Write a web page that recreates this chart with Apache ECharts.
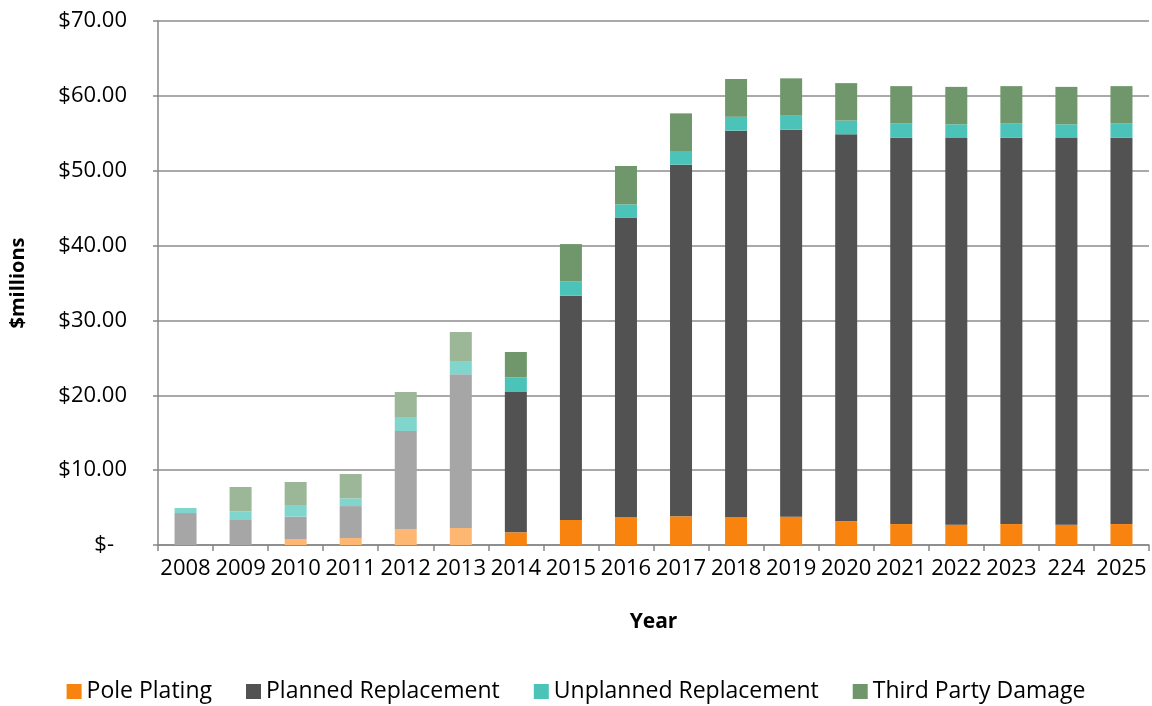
<!DOCTYPE html>
<html>
<head>
<meta charset="utf-8">
<title>Pole expenditure by year</title>
<script src="https://cdn.jsdelivr.net/npm/echarts@6/dist/echarts.min.js"></script>
<style>
  html, body { margin: 0; padding: 0; background: #ffffff; }
  #chart { width: 1152px; height: 706px; }
</style>
</head>
<body>
<div id="chart"></div>
<script>
// Categories (the "224" label is kept exactly as published)
const years = ['2008', '2009', '2010', '2011', '2012', '2013', '2014', '2015', '2016',
  '2017', '2018', '2019', '2020', '2021', '2022', '2023', '224', '2025'];

// Spend per program, $ millions
const polePlating = [0, 0, 0.80, 0.93, 2.14, 2.27, 1.69, 3.34, 3.74,
  3.83, 3.74, 3.78, 3.20, 2.80, 2.72, 2.80, 2.72, 2.80];
const plannedReplacement = [4.27, 3.34, 2.98, 4.27, 13.09, 20.53, 18.75, 29.96, 39.96,
  46.97, 51.61, 51.70, 51.66, 51.60, 51.65, 51.60, 51.65, 51.60];
const unplannedReplacement = [0.67, 1.16, 1.56, 1.03, 1.77, 1.78, 1.96, 1.90, 1.80,
  1.83, 1.85, 1.87, 1.84, 1.90, 1.83, 1.90, 1.83, 1.90];
const thirdPartyDamage = [0, 3.25, 3.08, 3.25, 3.44, 3.87, 3.38, 5.00, 5.13,
  5.03, 5.05, 4.99, 5.00, 5.00, 5.00, 5.00, 5.00, 5.00];

// Y axis ticks
const yTicks = [0, 10, 20, 30, 40, 50, 60, 70];

// The first years are shown in lighter tints
const lightYearCount = 6;

const FONT = '"Open Sans", "Noto Sans", sans-serif';

const seriesDefs = [
  { name: 'Pole Plating', values: polePlating, color: '#F8830F', light: '#FDB773' },
  { name: 'Planned Replacement', values: plannedReplacement, color: '#525252', light: '#A6A6A6' },
  { name: 'Unplanned Replacement', values: unplannedReplacement, color: '#4BC3B9', light: '#80D5CD' },
  { name: 'Third Party Damage', values: thirdPartyDamage, color: '#6F976B', light: '#9BB797' }
];

const series = seriesDefs.map(def => ({
  name: def.name,
  type: 'bar',
  stack: 'total',
  barWidth: 22,
  itemStyle: { color: def.color },
  data: def.values.map((v, i) => ({
    value: v,
    itemStyle: { color: i < lightYearCount ? def.light : def.color }
  }))
}));

const chart = echarts.init(document.getElementById('chart'), null, { renderer: 'canvas' });

chart.setOption({
  animation: false,
  textStyle: { fontFamily: FONT },
  grid: { left: 157, right: 3, top: 21, bottom: 161, containLabel: false },
  legend: {
    top: 675,
    left: 'center',
    itemWidth: 15,
    itemHeight: 15,
    itemGap: 34,
    icon: 'rect',
    textStyle: { fontFamily: FONT, fontSize: 23, color: '#000000' },
    data: seriesDefs.map(d => d.name)
  },
  xAxis: {
    type: 'category',
    data: years,
    name: 'Year',
    nameLocation: 'middle',
    nameGap: 67,
    nameTextStyle: { fontFamily: FONT, fontSize: 21, fontWeight: 'bold', color: '#000000' },
    axisLine: { show: true, lineStyle: { color: '#878787', width: 1.5 } },
    axisTick: { show: true, interval: 0, length: 6, lineStyle: { color: '#878787', width: 1.5 } },
    axisLabel: { interval: 0, margin: 13, fontFamily: FONT, fontSize: 22, color: '#000000' }
  },
  yAxis: {
    type: 'value',
    min: yTicks[0],
    max: yTicks[yTicks.length - 1],
    interval: yTicks[1] - yTicks[0],
    name: '$millions',
    nameLocation: 'middle',
    nameRotate: 90,
    nameGap: 130,
    nameTextStyle: { fontFamily: FONT, fontSize: 20, fontWeight: 'bold', color: '#000000' },
    axisLine: { show: true, lineStyle: { color: '#878787', width: 1.5 } },
    axisTick: { show: true, length: 5, lineStyle: { color: '#878787', width: 1.5 } },
    splitLine: { show: true, lineStyle: { color: '#8C8C8C', width: 1.5 } },
    axisLabel: {
      margin: 31,
      fontFamily: FONT,
      fontSize: 22,
      color: '#000000',
      formatter: v => (v === 0 ? '{z|$-}' : '$' + v.toFixed(2)),
      rich: { z: { fontFamily: FONT, fontSize: 22, color: '#000000', padding: [0, 13, 0, 0] } }
    }
  },
  series: series
});
</script>
</body>
</html>
